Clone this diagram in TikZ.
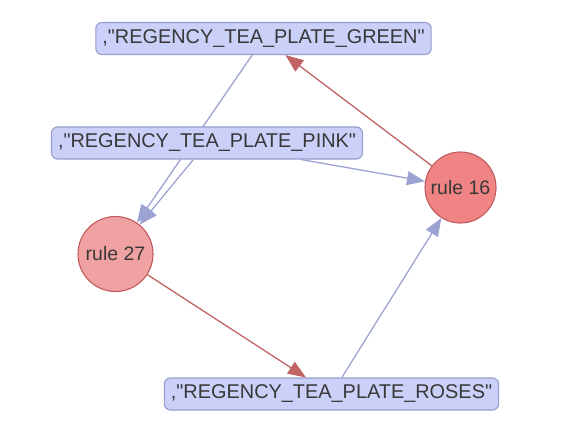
\documentclass[tikz,border=0pt]{standalone}
\usepackage{fontspec}
\setmainfont{Liberation Sans}[Ligatures=TeXOff]
\usetikzlibrary{arrows.meta,backgrounds}
\definecolor{boxfill}{HTML}{CBD0F9}
\definecolor{boxdraw}{HTML}{979DCF}
\definecolor{rulefillA}{HTML}{F08484}
\definecolor{rulefillB}{HTML}{F0A1A1}
\definecolor{ruledraw}{HTML}{C05A5C}
\definecolor{edgeblue}{HTML}{9CA3D3}
\definecolor{edgered}{HTML}{C26466}
\definecolor{txt}{HTML}{383838}
\tikzset{
  itembox/.style={draw=boxdraw, fill=boxfill, line width=1.1pt, rounded corners=6pt,
    inner xsep=6.5pt, minimum height=32pt, text=txt, font=\fontsize{19.9}{23}\selectfont},
  rulenode/.style={circle, draw=ruledraw, line width=1.1pt, inner sep=0pt, text=txt,
    font=\fontsize{19.5}{23}\selectfont},
  blueedge/.style={draw=edgeblue, line width=1.3pt, -{Triangle[length=18pt,width=14pt,fill=edgeblue]}},
  rededge/.style={draw=edgered, line width=1.3pt, -{Triangle[length=18pt,width=14pt,fill=edgered]}},
}
\begin{document}
\begin{tikzpicture}[x=1pt,y=-1pt]
\useasboundingbox (0,0) rectangle (575,437);
\node[itembox] (green) at (263.5,38.5) {,"REGENCY\_TEA\_PLATE\_GREEN"};
\node[itembox] (pink) at (207,143) {,"REGENCY\_TEA\_PLATE\_PINK"};
\node[itembox] (roses) at (331.5,394) {,"REGENCY\_TEA\_PLATE\_ROSES"};
\node[rulenode, fill=rulefillB, minimum size=75pt] (r27) at (115.5,254) {rule 27};
\node[rulenode, fill=rulefillA, minimum size=71pt] (r16) at (460.5,187.5) {rule 16};
\begin{scope}[on background layer]
\draw[blueedge] (green) -- (r27);
\draw[blueedge] (pink) -- (r27);
\draw[blueedge] (pink) -- (r16);
\draw[blueedge] (roses) -- (r16);
\draw[rededge] (r16) -- (green);
\draw[rededge] (r27) -- (roses);
\end{scope}
\end{tikzpicture}
\end{document}
